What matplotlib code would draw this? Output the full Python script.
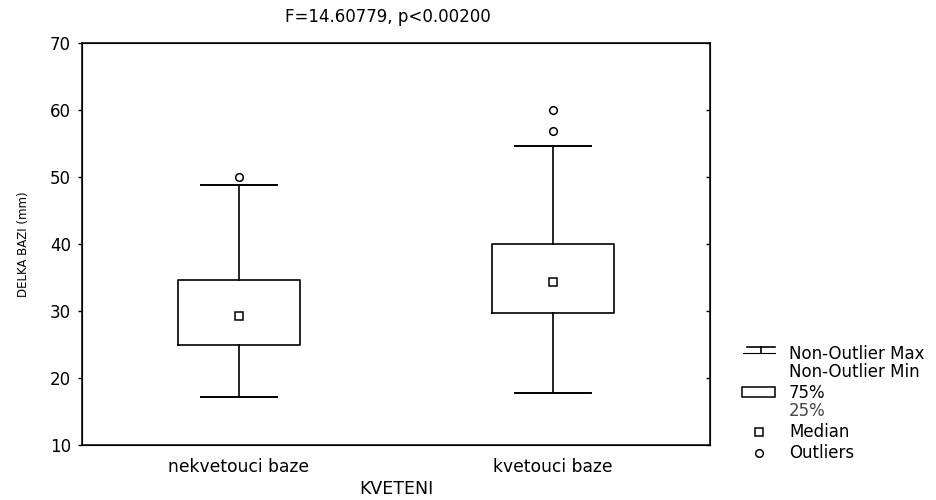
import matplotlib
matplotlib.use("Agg")
import matplotlib.pyplot as plt
from matplotlib.patches import Rectangle
from matplotlib.lines import Line2D

plt.rcParams['font.family'] = ['DejaVu Sans']

# box plot values
categories = ["nekvetouci baze", "kvetouci baze"]
whis_lo = [17.1, 17.7]
q1 = [25.0, 29.7]
medians = [29.3, 34.4]
q3 = [34.6, 40.0]
whis_hi = [48.8, 54.6]
outliers = [[50.0], [56.9, 60.0]]
yticks = [10, 20, 30, 40, 50, 60, 70]

W, H = 936, 500
fig = plt.figure(figsize=(W / 100, H / 100), dpi=100)
# axes box in pixels: left 82, right 710, top 43, bottom 445
ax = fig.add_axes([82 / W, 1 - 445 / H, (710 - 82) / W, (445 - 43) / H])

stats = []
for i in range(len(categories)):
    stats.append(dict(label=categories[i], whislo=whis_lo[i], q1=q1[i], med=medians[i],
                      q3=q3[i], whishi=whis_hi[i], fliers=outliers[i]))

pos = [1, 2]
ax.bxp(stats, positions=pos, widths=0.39, capwidths=0.24,
       boxprops=dict(color="black", linewidth=1.2),
       whiskerprops=dict(color="black", linewidth=1.2),
       capprops=dict(color="black", linewidth=1.4),
       medianprops=dict(linestyle="none"),
       flierprops=dict(marker="o", markersize=5.5, markerfacecolor="white",
                       markeredgecolor="black", markeredgewidth=1.1))
# median drawn as a small square
ax.plot(pos, medians, linestyle="none", marker="s", markersize=5.5,
        markerfacecolor="white", markeredgecolor="black", markeredgewidth=1.1)

ax.set_xlim(0.5, 2.5)
ax.set_ylim(10, 70)
ax.set_yticks(yticks)
ax.set_xticks(pos)
ax.set_xticklabels(categories, fontsize=12.3)
ax.tick_params(axis="x", length=0, pad=9)
ax.tick_params(axis="y", length=3, width=1, direction="out", pad=5, labelsize=12)
for s in ax.spines.values():
    s.set_linewidth(1.1)
ax.set_xlabel("KVETENI", fontsize=12.5, labelpad=3)
ax.set_ylabel("DELKA BAZI (mm)", fontsize=8.5, labelpad=14)
fig.text(388 / W, 1 - 17 / H, "F=14.60779, p<0.00200", ha="center", va="center",
         fontsize=12)

# small inward ticks on the right side
rt = ax.twinx()
rt.set_ylim(10, 70)
rt.set_yticks(yticks)
rt.tick_params(axis="y", direction="in", length=3, width=1, labelright=False)

# legend drawn in pixel space
lg = fig.add_axes([0, 0, 1, 1])
lg.set_xlim(0, W)
lg.set_ylim(H, 0)
lg.axis("off")
k = dict(color="black", linewidth=1.2)
lg.add_line(Line2D([747, 775], [347, 347], **k))
lg.add_line(Line2D([761, 761], [347, 353], **k))
lg.add_line(Line2D([743, 775], [353, 353], color="black", linewidth=0.8))
lg.add_patch(Rectangle((742, 387), 33, 10, fill=False, edgecolor="black", linewidth=1.1))
lg.plot([759], [432], linestyle="none", marker="s", markersize=5.5, markerfacecolor="white",
        markeredgecolor="black", markeredgewidth=1.1)
lg.plot([759], [453], linestyle="none", marker="o", markersize=5.5, markerfacecolor="white",
        markeredgecolor="black", markeredgewidth=1.1)
tk = dict(ha="left", va="center", fontsize=12)
lg.text(789, 354, "Non-Outlier Max", **tk)
lg.text(789, 372, "Non-Outlier Min", **tk)
lg.text(789, 393, "75%", **tk)
lg.text(789, 411, "25%", color="#444444", **tk)
lg.text(789, 432, "Median", **tk)
lg.text(789, 453, "Outliers", **tk)

fig.savefig("out.png", dpi=100)
